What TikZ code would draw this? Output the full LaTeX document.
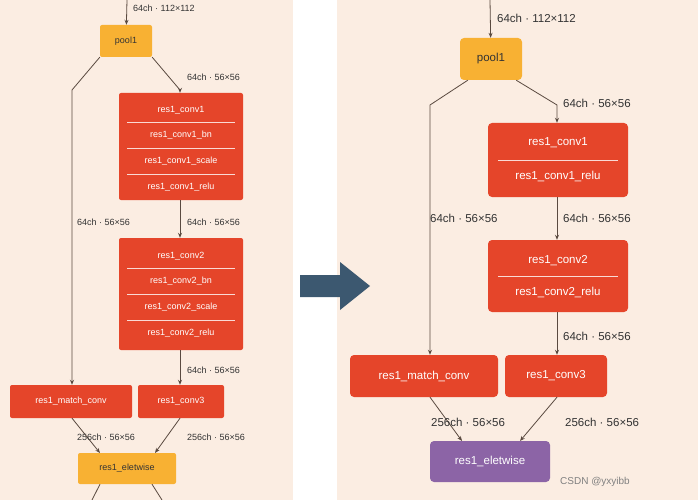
\documentclass[tikz,border=0pt]{standalone}
\usepackage{fontspec}
\setmainfont{Liberation Sans}
\usetikzlibrary{arrows.meta}
\definecolor{bg}{HTML}{FBEDE2}
\definecolor{rd}{HTML}{E5452A}
\definecolor{og}{HTML}{F8B133}
\definecolor{pu}{HTML}{8C64A6}
\definecolor{tx}{HTML}{333333}
\definecolor{ln}{HTML}{5A4A40}
\definecolor{ar}{HTML}{3C5870}
\begin{document}
\begin{tikzpicture}[x=1pt,y=-1pt,
  box/.style={rounded corners=2pt,draw=none,text=white,inner sep=0pt},
  lab/.style={text=tx,anchor=west,inner sep=0pt},
  conn/.style={draw=ln,line width=0.8pt,-{Stealth[length=5pt,width=4pt]}},
  sep/.style={draw=white!80!rd,line width=0.5pt}]
\useasboundingbox (0,0) rectangle (698,500);
\fill[bg] (0,0) rectangle (293,500);
\fill[bg] (337,0) rectangle (698,500);
% middle arrow
\fill[ar] (300,275) -- (340,275) -- (340,262) -- (370,286) -- (340,310) -- (340,297) -- (300,297) -- cycle;

% ---------- left panel ----------
\begin{scope}[every node/.append style={font=\fontsize{9}{10}\selectfont}]
\node[box,fill=og,minimum width=52,minimum height=32,text=tx] (lp) at (126,41) {pool1};
\coordinate (lt) at (127,0);
\draw[conn] (lt) -- (lp);
\node[lab] (l1) at (133,8) {64ch · 112×112};
\node[box,fill=rd,minimum width=124,minimum height=107] (lb1) at (181,146.5) {};
\foreach \y/\t in {110/res1\_conv1,135/res1\_conv1\_bn,161/res1\_conv1\_scale,187/res1\_conv1\_relu}
  \node[text=white] at (181,\y) {\t};
\foreach \y in {122,148,174} \draw[sep] (127,\y) -- (235,\y);
\node[box,fill=rd,minimum width=124,minimum height=112] (lb2) at (181,294) {};
\foreach \y/\t in {256/res1\_conv2,281/res1\_conv2\_bn,307/res1\_conv2\_scale,333/res1\_conv2\_relu}
  \node[text=white] at (181,\y) {\t};
\foreach \y in {268,294,320} \draw[sep] (127,\y) -- (235,\y);
\node[box,fill=rd,minimum width=122,minimum height=33] (lm) at (71,401.5) {res1\_match\_conv};
\node[box,fill=rd,minimum width=86,minimum height=33] (lc3) at (181,401.5) {res1\_conv3};
\node[box,fill=og,minimum width=98,minimum height=31,text=tx] (le) at (127,468.5) {res1\_eletwise};
\draw[conn] (lp.south west) -- (72,90) -- (lm.north -| 72,0);
\draw[conn] (lp.south east) -- (180,90) -- (lb1.north -| 180,0);
\draw[conn] (lb1.south -| 180,0) -- (lb2.north -| 180,0);
\draw[conn] (lb2.south -| 180,0) -- (lc3.north -| 180,0);
\draw[conn] (lm.south -| 72,0) -- (100,453);
\draw[conn] (lc3.south -| 180,0) -- (155,453);
\draw[draw=ln,line width=0.8pt] (le.south -| 100,0) -- (92,500);
\draw[draw=ln,line width=0.8pt] (le.south -| 152,0) -- (162,500);
\node[lab] at (187,77) {64ch · 56×56};
\node[lab] at (187,222) {64ch · 56×56};
\node[lab] at (77,222) {64ch · 56×56};
\node[lab] at (187,370) {64ch · 56×56};
\node[lab] at (77,437) {256ch · 56×56};
\node[lab] at (187,437) {256ch · 56×56};
\end{scope}

% ---------- right panel ----------
\begin{scope}[every node/.append style={font=\fontsize{11.5}{13}\selectfont}]
\node[box,rounded corners=4pt,fill=og,minimum width=62,minimum height=42,text=tx] (rp) at (491,59) {pool1};
\coordinate (rt) at (490,0);
\draw[conn] (rt) -- (rp);
\node[lab] at (497,18) {64ch · 112×112};
\node[box,rounded corners=4pt,fill=rd,minimum width=140,minimum height=74] (rb1) at (558,160) {};
\node[text=white] at (558,143) {res1\_conv1};
\node[text=white] at (558,176) {res1\_conv1\_relu};
\draw[sep] (498,160) -- (618,160);
\node[box,rounded corners=4pt,fill=rd,minimum width=140,minimum height=72] (rb2) at (558,276) {};
\node[text=white] at (558,261) {res1\_conv2};
\node[text=white] at (558,292) {res1\_conv2\_relu};
\draw[sep] (498,276) -- (618,276);
\node[box,rounded corners=4pt,fill=rd,minimum width=148,minimum height=42] (rm) at (424,376) {res1\_match\_conv};
\node[box,rounded corners=4pt,fill=rd,minimum width=102,minimum height=42] (rc3) at (556,376) {res1\_conv3};
\node[box,rounded corners=4pt,fill=pu,minimum width=120,minimum height=41] (re) at (490,461.5) {res1\_eletwise};
\draw[conn] (rp.south west) ++(8,0) -- (430,105) -- (rm.north -| 430,0);
\draw[conn] (rp.south east) ++(-6,0) -- (557,105) -- (rb1.north -| 557,0);
\draw[conn] (rb1.south -| 557,0) -- (rb2.north -| 557,0);
\draw[conn] (rb2.south -| 557,0) -- (rc3.north -| 557,0);
\draw[conn] (rm.south -| 430,0) -- (462,441);
\draw[conn] (rc3.south -| 557,0) -- (520,441);
\node[lab] at (563,103) {64ch · 56×56};
\node[lab] at (563,218) {64ch · 56×56};
\node[lab] at (430,218) {64ch · 56×56};
\node[lab] at (563,336) {64ch · 56×56};
\node[lab] at (431,422) {256ch · 56×56};
\node[lab] at (565,422) {256ch · 56×56};
\node[lab,text=gray,font=\fontsize{10}{12}\selectfont] at (560,482) {CSDN @yxyibb};
\end{scope}
\end{tikzpicture}
\end{document}
